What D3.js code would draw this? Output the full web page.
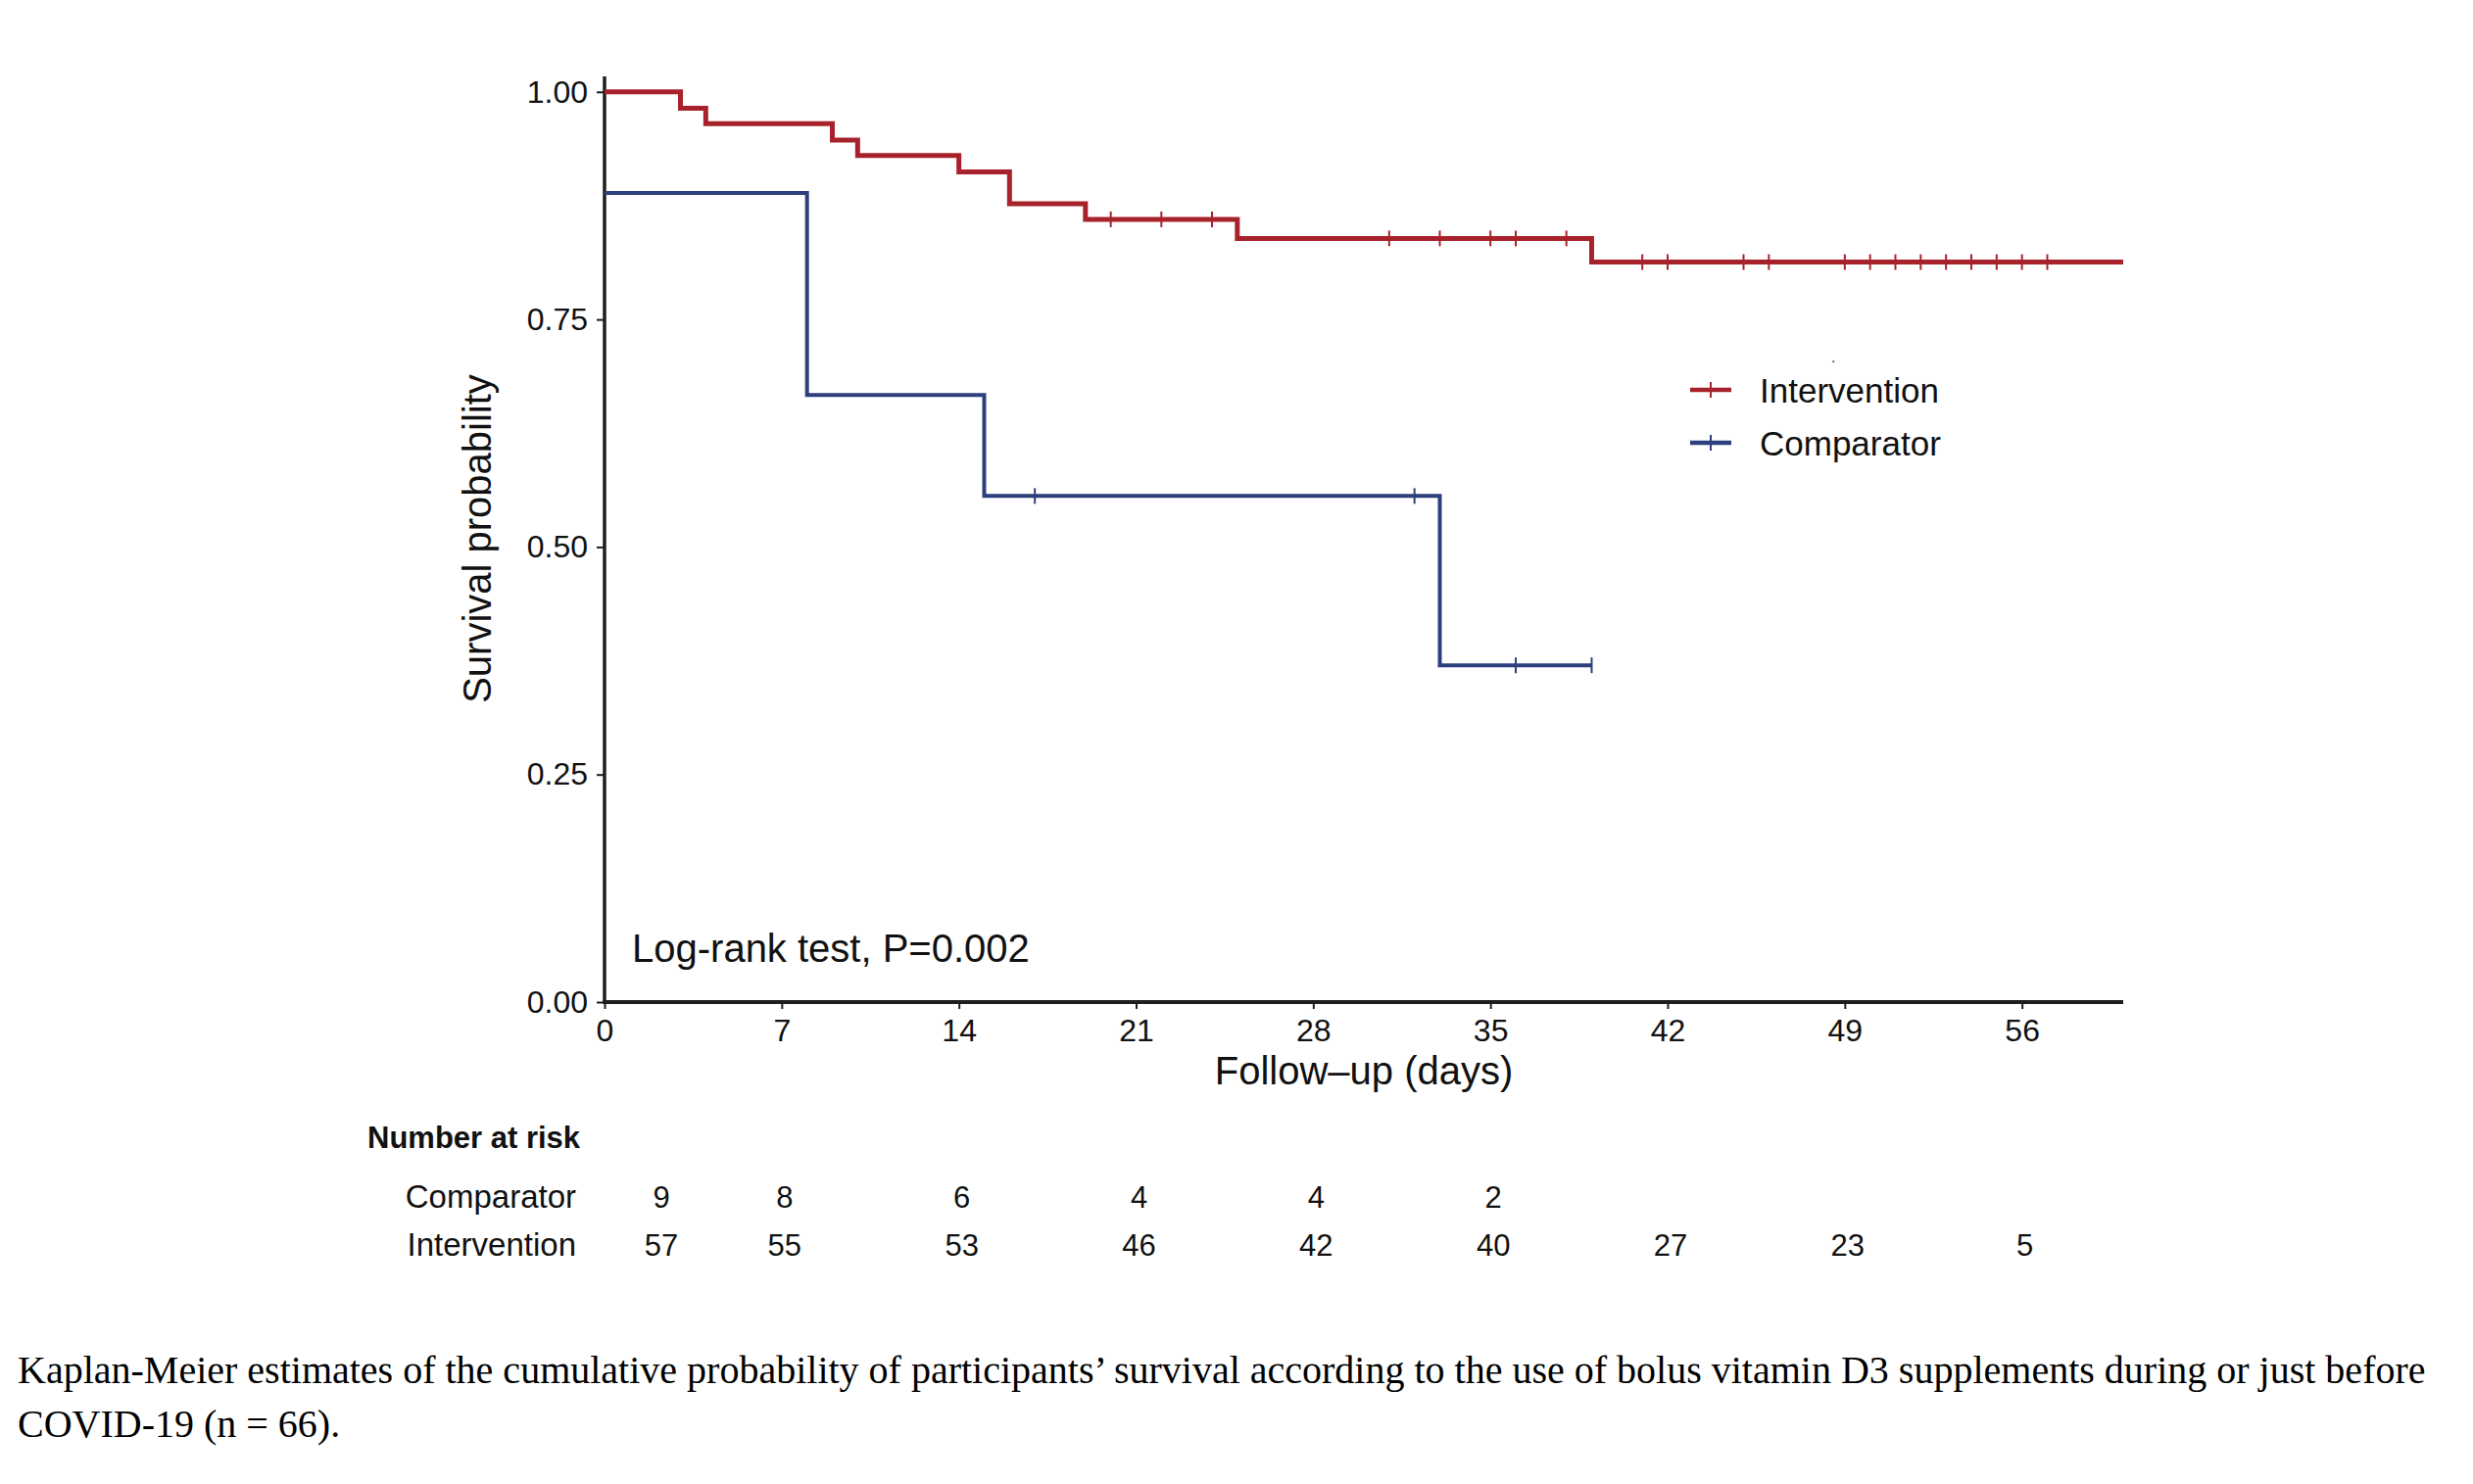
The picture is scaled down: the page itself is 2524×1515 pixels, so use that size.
<!DOCTYPE html>
<html>
<head>
<meta charset="utf-8">
<script src="https://cdn.jsdelivr.net/npm/d3@7/dist/d3.min.js"></script>
<style>
  html, body { margin: 0; padding: 0; background: #ffffff; }
  svg { display: block; }
</style>
</head>
<body>
<svg id="chart" width="2524" height="1515"></svg>
<script>
// ---------------- DATA ----------------
const seriesNames = ["Intervention", "Comparator"];
const seriesColors = ["#a8222b", "#2d3f7c"];

// Intervention (red) step curve
const interventionTimes  = [0, 3, 4, 9, 10, 14, 16, 19, 25, 39];
const interventionSurv   = [1.000, 0.982, 0.965, 0.947, 0.930, 0.912, 0.877, 0.860, 0.839, 0.813];
const interventionEnd    = 60;
const interventionCensor = [20, 22, 24, 31, 33, 35, 36, 38, 41, 42, 45, 46, 49, 50, 51, 52, 53, 54, 55, 56, 57];

// Comparator (blue) step curve
const comparatorTimes  = [0, 8, 15, 33];
const comparatorSurv   = [0.889, 0.667, 0.556, 0.370];
const comparatorEnd    = 39;
const comparatorCensor = [17, 32, 36, 39];

// Axis ticks
const xTicks = [0, 7, 14, 21, 28, 35, 42, 49, 56];
const yTicks = [0, 0.25, 0.50, 0.75, 1.00];

// Number at risk table
const riskDays = [0, 7, 14, 21, 28, 35, 42, 49, 56];
const comparatorRisk = [9, 8, 6, 4, 4, 2];
const interventionRisk = [57, 55, 53, 46, 42, 40, 27, 23, 5];

const pValueText = "Log-rank test, P=0.002";
const xTitle = "Follow\u2013up (days)";
const yTitle = "Survival probability";
const captionLines = [
  "Kaplan-Meier estimates of the cumulative probability of participants\u2019 survival according to the use of bolus vitamin D3 supplements during or just before",
  "COVID-19 (n = 66)."
];

// ---------------- DRAW ----------------
const sans = "'Liberation Sans', Arial, Helvetica, sans-serif";
const serif = "'Liberation Serif', 'Times New Roman', Times, serif";
const svg = d3.select("#chart");
svg.append("rect").attr("width", 2524).attr("height", 1515).attr("fill", "#fff");

const x = d3.scaleLinear().domain([0, 60]).range([617, 2167]);
const y = d3.scaleLinear().domain([0, 1.017]).range([1023, 78]);

// Axes
const xAxis = svg.append("g")
  .attr("transform", `translate(0,${y(0)})`)
  .call(d3.axisBottom(x).tickValues(xTicks).tickSizeOuter(0).tickSize(7).tickPadding(10).tickFormat(d3.format("d")));
xAxis.select(".domain").remove();
xAxis.selectAll(".tick line").attr("stroke", "#1e1e1e").attr("stroke-width", 2);
xAxis.selectAll(".tick text").attr("font-family", sans).attr("font-size", 32).attr("fill", "#111");

const yAxis = svg.append("g")
  .attr("transform", `translate(${x(0)},0)`)
  .call(d3.axisLeft(y).tickValues(yTicks).tickSizeOuter(0).tickSize(8).tickPadding(9).tickFormat(d3.format(".2f")));
yAxis.select(".domain").remove();
yAxis.selectAll(".tick line").attr("stroke", "#1e1e1e").attr("stroke-width", 2);
yAxis.selectAll(".tick text").attr("font-family", sans).attr("font-size", 32).attr("fill", "#111");

// Axis lines
svg.append("line").attr("x1", x(0)).attr("x2", x(0)).attr("y1", y(0)).attr("y2", y(1.017))
  .attr("stroke", "#1e1e1e").attr("stroke-width", 3.5);
svg.append("line").attr("x1", x(0) - 1.75).attr("x2", x(60)).attr("y1", y(0)).attr("y2", y(0))
  .attr("stroke", "#1e1e1e").attr("stroke-width", 4);

// Step curves
function stepPoints(times, surv, end) {
  const pts = times.map((t, i) => [t, surv[i]]);
  pts.push([end, surv[surv.length - 1]]);
  return pts;
}
function survAt(times, surv, t) {
  let v = surv[0];
  for (let i = 0; i < times.length; i++) if (times[i] <= t) v = surv[i];
  return v;
}
const line = d3.line().x(d => x(d[0])).y(d => y(d[1])).curve(d3.curveStepAfter);

const curves = [
  { times: interventionTimes, surv: interventionSurv, end: interventionEnd, censor: interventionCensor, color: seriesColors[0], w: 5 },
  { times: comparatorTimes, surv: comparatorSurv, end: comparatorEnd, censor: comparatorCensor, color: seriesColors[1], w: 4 }
];

curves.forEach(c => {
  svg.append("path")
    .datum(stepPoints(c.times, c.surv, c.end))
    .attr("d", line)
    .attr("fill", "none")
    .attr("stroke", c.color)
    .attr("stroke-width", c.w)
    .attr("stroke-linejoin", "miter")
    .attr("stroke-linecap", "butt");
  svg.append("g").selectAll("line")
    .data(c.censor)
    .join("line")
    .attr("x1", d => x(d)).attr("x2", d => x(d))
    .attr("y1", d => y(survAt(c.times, c.surv, d)) - 8)
    .attr("y2", d => y(survAt(c.times, c.surv, d)) + 8)
    .attr("stroke", c.color)
    .attr("stroke-width", 2);
});

// Legend
const legendY = [398, 452];
svg.append("text").attr("x", 1869).attr("y", 370).attr("font-family", sans).attr("font-size", 16).attr("fill", "#333").text(".");
seriesNames.forEach((name, i) => {
  const g = svg.append("g");
  g.append("line").attr("x1", 1725).attr("x2", 1767).attr("y1", legendY[i]).attr("y2", legendY[i])
    .attr("stroke", seriesColors[i]).attr("stroke-width", 4.5);
  g.append("line").attr("x1", 1746).attr("x2", 1746).attr("y1", legendY[i] - 8).attr("y2", legendY[i] + 8)
    .attr("stroke", seriesColors[i]).attr("stroke-width", 2);
  g.append("text").attr("x", 1796).attr("y", legendY[i]).attr("dy", "0.36em")
    .attr("font-family", sans).attr("font-size", 35).attr("fill", "#111").text(name);
});

// P-value annotation
svg.append("text").attr("x", 645).attr("y", 982)
  .attr("font-family", sans).attr("font-size", 40).attr("fill", "#111").text(pValueText);

// Axis titles
svg.append("text").attr("x", (x(0) + x(60)) / 2).attr("y", 1107).attr("text-anchor", "middle")
  .attr("font-family", sans).attr("font-size", 40).attr("fill", "#111").text(xTitle);
svg.append("text").attr("transform", "translate(501,550) rotate(-90)").attr("text-anchor", "middle")
  .attr("font-family", sans).attr("font-size", 40).attr("fill", "#111").text(yTitle);

// Number at risk table
svg.append("text").attr("x", 375).attr("y", 1172)
  .attr("font-family", sans).attr("font-size", 31).attr("font-weight", "bold").attr("fill", "#111").text("Number at risk");
const riskRows = [
  { name: "Comparator", values: comparatorRisk, yb: 1233 },
  { name: "Intervention", values: interventionRisk, yb: 1282 }
];
const colX = (d, i) => x(d) + (i === 0 ? 58 : 3);
riskRows.forEach(r => {
  svg.append("text").attr("x", 588).attr("y", r.yb).attr("text-anchor", "end")
    .attr("font-family", sans).attr("font-size", 33).attr("fill", "#111").text(r.name);
  svg.append("g").selectAll("text")
    .data(r.values)
    .join("text")
    .attr("x", (v, i) => colX(riskDays[i], i))
    .attr("y", r.yb)
    .attr("text-anchor", "middle")
    .attr("font-family", sans).attr("font-size", 31).attr("fill", "#111")
    .text(v => v);
});

// Caption
captionLines.forEach((t, i) => {
  svg.append("text").attr("x", 18).attr("y", 1412 + i * 55)
    .attr("font-family", serif).attr("font-size", 40).attr("fill", "#000").text(t);
});
</script>
</body>
</html>
